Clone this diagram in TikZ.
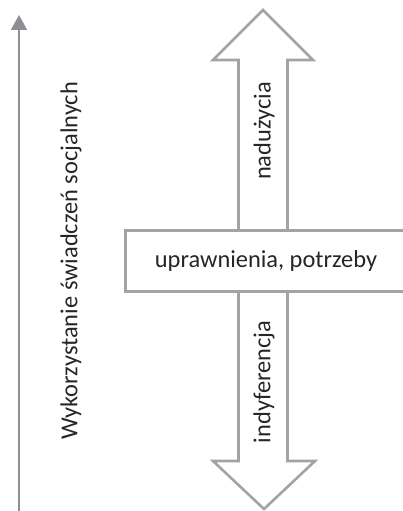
\documentclass[tikz,border=0pt]{standalone}
\usepackage{fontspec}
\setmainfont{Carlito}
\usetikzlibrary{arrows.meta}

\definecolor{szary}{HTML}{A3A3A3}
\definecolor{ciemnyszary}{HTML}{8E8E93}
\definecolor{tekst}{HTML}{262626}

\tikzset{
    kontur/.style={draw=szary, line width=2.6pt, line join=miter},
    opis/.style={text=tekst, font=\fontsize{24.4}{28}\selectfont, inner sep=0pt},
    pionowy/.style={opis, rotate=90}
}

\begin{document}
\begin{tikzpicture}[x=1pt, y=-1pt]
            \useasboundingbox (0,0) rectangle (403,511);

            %os wykorzystania
            \coordinate (dol) at (19,511);
            \coordinate (gora) at (19,15);
            \draw[ciemnyszary, line width=1.8pt, -{Triangle[width=16pt,length=15pt]}] (dol) -- (gora);
            \node[pionowy] (os) at (71,261) {Wykorzystanie świadczeń socjalnych};

            %strzalka w gore
            \draw[kontur, fill=white] (238.5,229) -- (238.5,60) -- (213,60) -- (263,10)
                -- (313,60) -- (287.5,60) -- (287.5,229);
            \node[pionowy] (naduzycia) at (264,131) {nadużycia};

            %strzalka w dol
            \draw[kontur, fill=white] (238.5,290) -- (238.5,461) -- (213,461) -- (264,509)
                -- (315,461) -- (287.5,461) -- (287.5,290);
            \node[pionowy] (indyferencja) at (264,382) {indyferencja};

            %prostokat srodkowy
            \node[kontur, fill=white, rectangle, anchor=north west, minimum width=290pt,
                minimum height=61pt] (prostokat) at (124,229) {};
            \node[opis] (uprawnienia) at (266,261) {uprawnienia, potrzeby};

        \end{tikzpicture}
\end{document}
